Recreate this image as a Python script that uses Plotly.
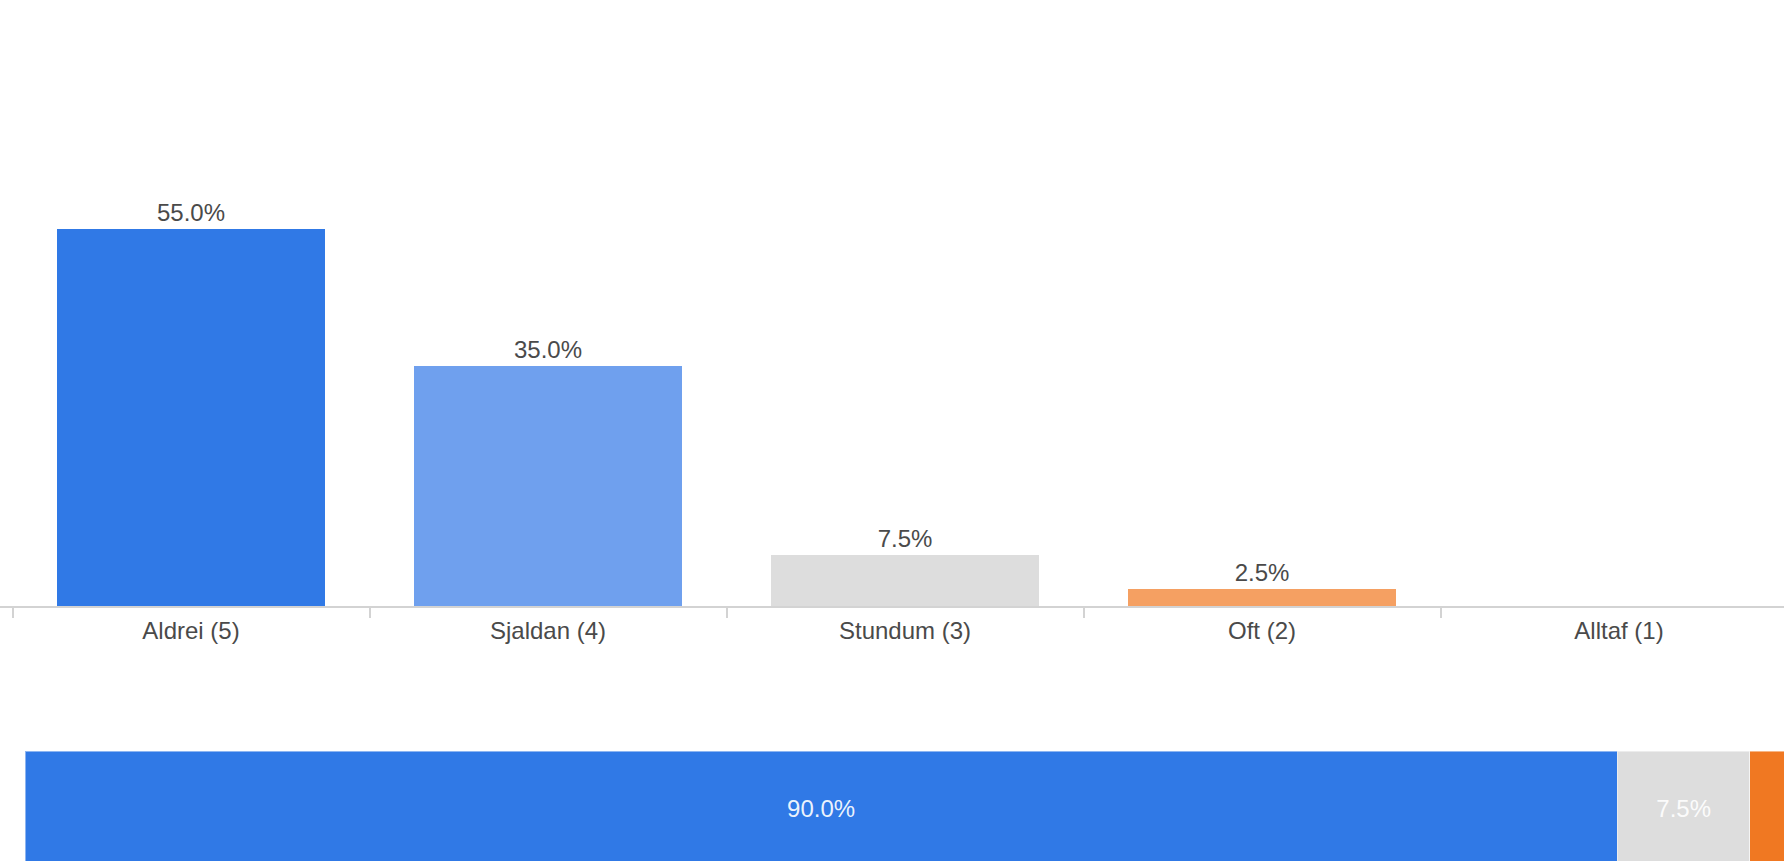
import plotly.graph_objects as go

# Response distribution
categories = ["Aldrei (5)", "Sjaldan (4)", "Stundum (3)", "Oft (2)", "Alltaf (1)"]
shares = [55.0, 35.0, 7.5, 2.5, 0.0]
bar_colors = ["#3079E6", "#6FA0EE", "#DDDDDD", "#F5A062", "#F07822"]

# Grouped summary: never/seldom, sometimes, often/always
summary_names = ["Aldrei/Sjaldan", "Stundum", "Oft/Alltaf"]
summary_shares = [90.0, 7.5, 2.5]
summary_colors = ["#3079E6", "#DDDDDD", "#F07822"]
summary_labels = ["90.0%", "7.5%", ""]

W, H = 1784, 861
FONT = "Liberation Sans, Arial, sans-serif"
TEXT = "#4a4a4a"

fig = go.Figure()

fig.add_trace(go.Bar(
    x=categories, y=shares,
    marker=dict(color=bar_colors, line=dict(width=0)),
    width=0.75,
    text=[f"{v:.1f}%" if v > 0 else "" for v in shares],
    textposition="outside",
    textfont=dict(family=FONT, size=24, color=TEXT),
    cliponaxis=False,
    hoverinfo="skip",
    showlegend=False,
    xaxis="x", yaxis="y",
))

for name, val, col, lab in zip(summary_names, summary_shares, summary_colors, summary_labels):
    fig.add_trace(go.Bar(
        x=[val], y=[0], orientation="h", name=name,
        marker=dict(color=col, line=dict(width=1, color="rgba(255,255,255,0.45)")),
        width=1.0,
        text=[lab], textposition="inside", insidetextanchor="middle",
        textangle=0,
        textfont=dict(family=FONT, size=24, color="rgba(255,255,255,0.92)"),
        hoverinfo="skip", showlegend=False,
        xaxis="x2", yaxis="y2",
    ))

# Category axis: 357 px per category, first boundary 12.5 px from the left
px_per_cat = 357.0
left_edge = 12.5
x_lo = -0.5 - left_edge / px_per_cat
x_hi = -0.5 + (W - left_edge) / px_per_cat

baseline_px = 606.0
px_per_pct = 6.85
y_domain_lo = 1 - baseline_px / H
y_hi = baseline_px / px_per_pct

# Summary bar: 17.69 px per percent, starting 25 px from the left
px_per_pct2 = 17.692
x2_lo = -25.0 / px_per_pct2
x2_hi = (W - 25.0) / px_per_pct2

fig.update_layout(
    width=W, height=H,
    margin=dict(l=0, r=0, t=0, b=0),
    paper_bgcolor="white", plot_bgcolor="white",
    barmode="stack",
    font=dict(family=FONT, color=TEXT),
    xaxis=dict(
        domain=[0, 1], range=[x_lo, x_hi], type="category",
        tickson="boundaries", ticks="outside", ticklen=10, tickwidth=2,
        tickcolor="#D3D3D3", ticklabelstandoff=2,
        showline=True, linecolor="#D3D3D3", linewidth=2,
        showgrid=False, zeroline=False,
        tickfont=dict(family=FONT, size=24, color=TEXT),
        fixedrange=True, anchor="y",
    ),
    yaxis=dict(
        domain=[y_domain_lo, 1], range=[0, y_hi],
        visible=False, showgrid=False, zeroline=False, fixedrange=True,
        anchor="x",
    ),
    xaxis2=dict(
        domain=[0, 1], range=[x2_lo, x2_hi],
        visible=False, showgrid=False, zeroline=False, fixedrange=True,
        anchor="y2",
    ),
    yaxis2=dict(
        domain=[0, 129 / H], range=[-0.465, 0.667],
        visible=False, showgrid=False, zeroline=False, fixedrange=True,
        anchor="x2",
    ),
)

fig.write_html("out.html", config={"displayModeBar": False})
